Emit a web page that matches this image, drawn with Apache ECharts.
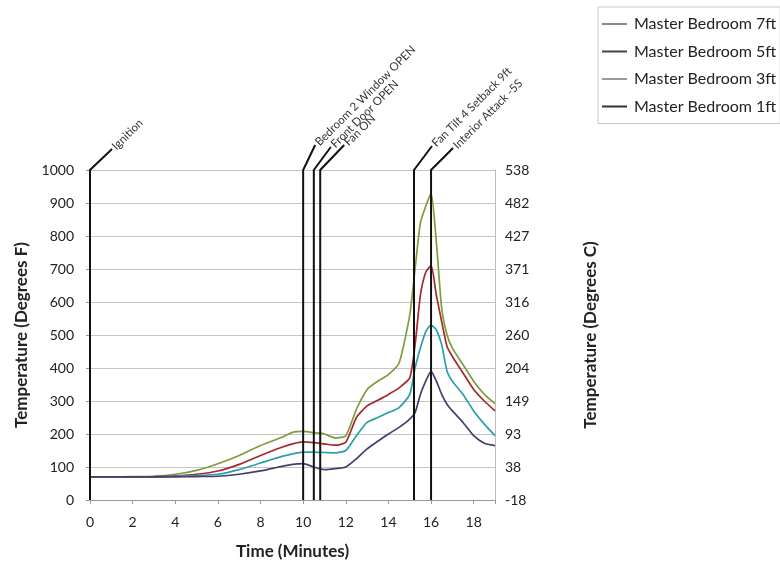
<!DOCTYPE html>
<html>
<head>
<meta charset="utf-8">
<script src="https://cdn.jsdelivr.net/npm/echarts@6/dist/echarts.min.js"></script>
<style>html,body{margin:0;padding:0;background:#fff}#c{width:780px;height:568px}</style>
</head>
<body>
<div id="c"></div>
<script>
const times = [0,1,2,3,4,5,6,7,8,9,9.5,10,10.5,11,11.5,12,12.5,13,13.5,14,14.5,15,15.25,15.5,15.75,16,16.25,16.5,16.75,17,17.5,18,18.5,19];
const mb7ft = [70,70,71,72,78,90,110,135,165,190,205,208,204,200,188,195,275,335,360,380,415,560,700,840,890,930,780,580,500,460,410,360,320,292];
const mb5ft = [70,70,70,71,73,78,88,108,135,160,170,176,174,170,166,175,250,285,302,320,340,370,470,620,690,710,620,540,465,435,385,335,300,270];
const mb3ft = [70,70,70,70,72,74,78,92,112,132,140,145,145,144,143,150,195,235,250,265,280,320,400,460,510,530,515,470,390,360,320,270,230,195];
const mb1ft = [70,70,70,70,70,71,72,78,88,102,108,110,100,92,95,100,125,155,178,200,220,245,265,320,360,390,360,320,290,270,235,195,172,165];
const seriesNames = ['Master Bedroom 7ft','Master Bedroom 5ft','Master Bedroom 3ft','Master Bedroom 1ft'];
const seriesColors = ['#7f9c3d','#a3292f','#2b9fa9','#4b3d6b'];
const legendColors = ['#8a8a8a','#444444','#9a9a9a','#333333'];
const eventTimes = [0, 10.0, 10.5, 10.8, 15.2, 16.0];
const eventLabels = ['Ignition','Bedroom 2 Window OPEN','Front Door OPEN','Fan ON','Fan Tilt 4 Setback 9ft','Interior Attack -5S'];
const xTickLabels = ['0','2','4','6','8','10','12','14','16','18'];
const celsiusLabels = ['-18','38','93','149','204','260','316','371','427','482','538'];

const font = 'Lato, "Open Sans", sans-serif';
const allData = [mb7ft, mb5ft, mb3ft, mb1ft];
const leaderDx = [22, 12, 17, 24, 18, 22];
const leaderDy = [21, 25, 23, 25, 24, 22];
const chart = echarts.init(document.getElementById('c'));

const lineSeries = allData.map((d, i) => ({
  name: seriesNames[i],
  type: 'line',
  symbol: 'none',
  smooth: 0.2,
  data: times.map((t, k) => [t, d[k]]),
  lineStyle: { color: seriesColors[i], width: 1.7 },
  itemStyle: { color: seriesColors[i] },
  z: 2
}));

const eventSeries = {
  type: 'custom',
  clip: false,
  z: 5,
  silent: true,
  data: eventTimes.map((t, i) => [t, i]),
  renderItem: function (params, api) {
    const x = api.value(0);
    const idx = api.value(1);
    const top = api.coord([x, 1000]);
    const bot = api.coord([x, 0]);
    const end = [top[0] + leaderDx[idx], top[1] - leaderDy[idx]];
    return {
      type: 'group',
      children: [
        { type: 'polyline', shape: { points: [bot, top, end] },
          style: { stroke: '#111', lineWidth: 2, fill: null } },
        { type: 'text', x: end[0] + 2, y: end[1] - 1, rotation: Math.PI / 4,
          style: { text: eventLabels[idx], font: '11.5px ' + font, fill: '#333',
                   align: 'left', verticalAlign: 'middle' } }
      ]
    };
  }
};

chart.setOption({
  backgroundColor: '#fff',
  animation: false,
  textStyle: { fontFamily: font },
  grid: { left: 90, right: 285, top: 170, bottom: 68 },
  legend: {
    orient: 'vertical',
    left: 598, top: 7,
    icon: 'rect',
    itemWidth: 25, itemHeight: 2, itemGap: 11.5,
    padding: [9, 4, 9, 4],
    borderColor: '#c8c8c8', borderWidth: 1,
    textStyle: { fontFamily: font, fontSize: 16, color: '#222', padding: [2, 0, 0, 2] },
    data: seriesNames.map((n, i) => ({ name: n, itemStyle: { color: legendColors[i] } }))
  },
  xAxis: {
    type: 'value', min: 0, max: 19, interval: 2,
    name: 'Time (Minutes)', nameLocation: 'middle', nameGap: 43,
    nameTextStyle: { fontFamily: font, fontSize: 17, fontWeight: 'bold', color: '#222' },
    axisLine: { lineStyle: { color: '#999' } },
    axisTick: { show: true, length: 4, lineStyle: { color: '#999' } },
    splitLine: { show: false },
    axisLabel: { fontFamily: font, fontSize: 14, color: '#222', margin: 15,
      formatter: function (v) { const s = String(v); return xTickLabels.indexOf(s) >= 0 ? s : ''; } }
  },
  yAxis: [
    {
      type: 'value', min: 0, max: 1000, interval: 100,
      name: 'Temperature (Degrees F)', nameLocation: 'middle', nameGap: 60,
      nameTextStyle: { fontFamily: font, fontSize: 17, fontWeight: 'bold', color: '#222' },
      axisLine: { show: true, lineStyle: { color: '#999' } },
      axisTick: { show: true, length: 4, lineStyle: { color: '#999' } },
      splitLine: { show: true, lineStyle: { color: '#c4c4c4', width: 1 } },
      axisLabel: { fontFamily: font, fontSize: 14, color: '#222', margin: 16,
        formatter: function (v) { return String(v); } }
    },
    {
      type: 'value', min: 0, max: 1000, interval: 100, position: 'right',
      name: 'Temperature (Degrees C)', nameLocation: 'middle', nameGap: 87,
      nameTextStyle: { fontFamily: font, fontSize: 17, fontWeight: 'bold', color: '#222' },
      axisLine: { show: true, lineStyle: { color: '#bbb' } },
      axisTick: { show: false },
      splitLine: { show: false },
      axisLabel: { fontFamily: font, fontSize: 14, color: '#222', margin: 10,
        formatter: function (v) { return celsiusLabels[Math.round(v / 100)]; } }
    }
  ],
  series: lineSeries.concat([eventSeries])
});
</script>
</body>
</html>
